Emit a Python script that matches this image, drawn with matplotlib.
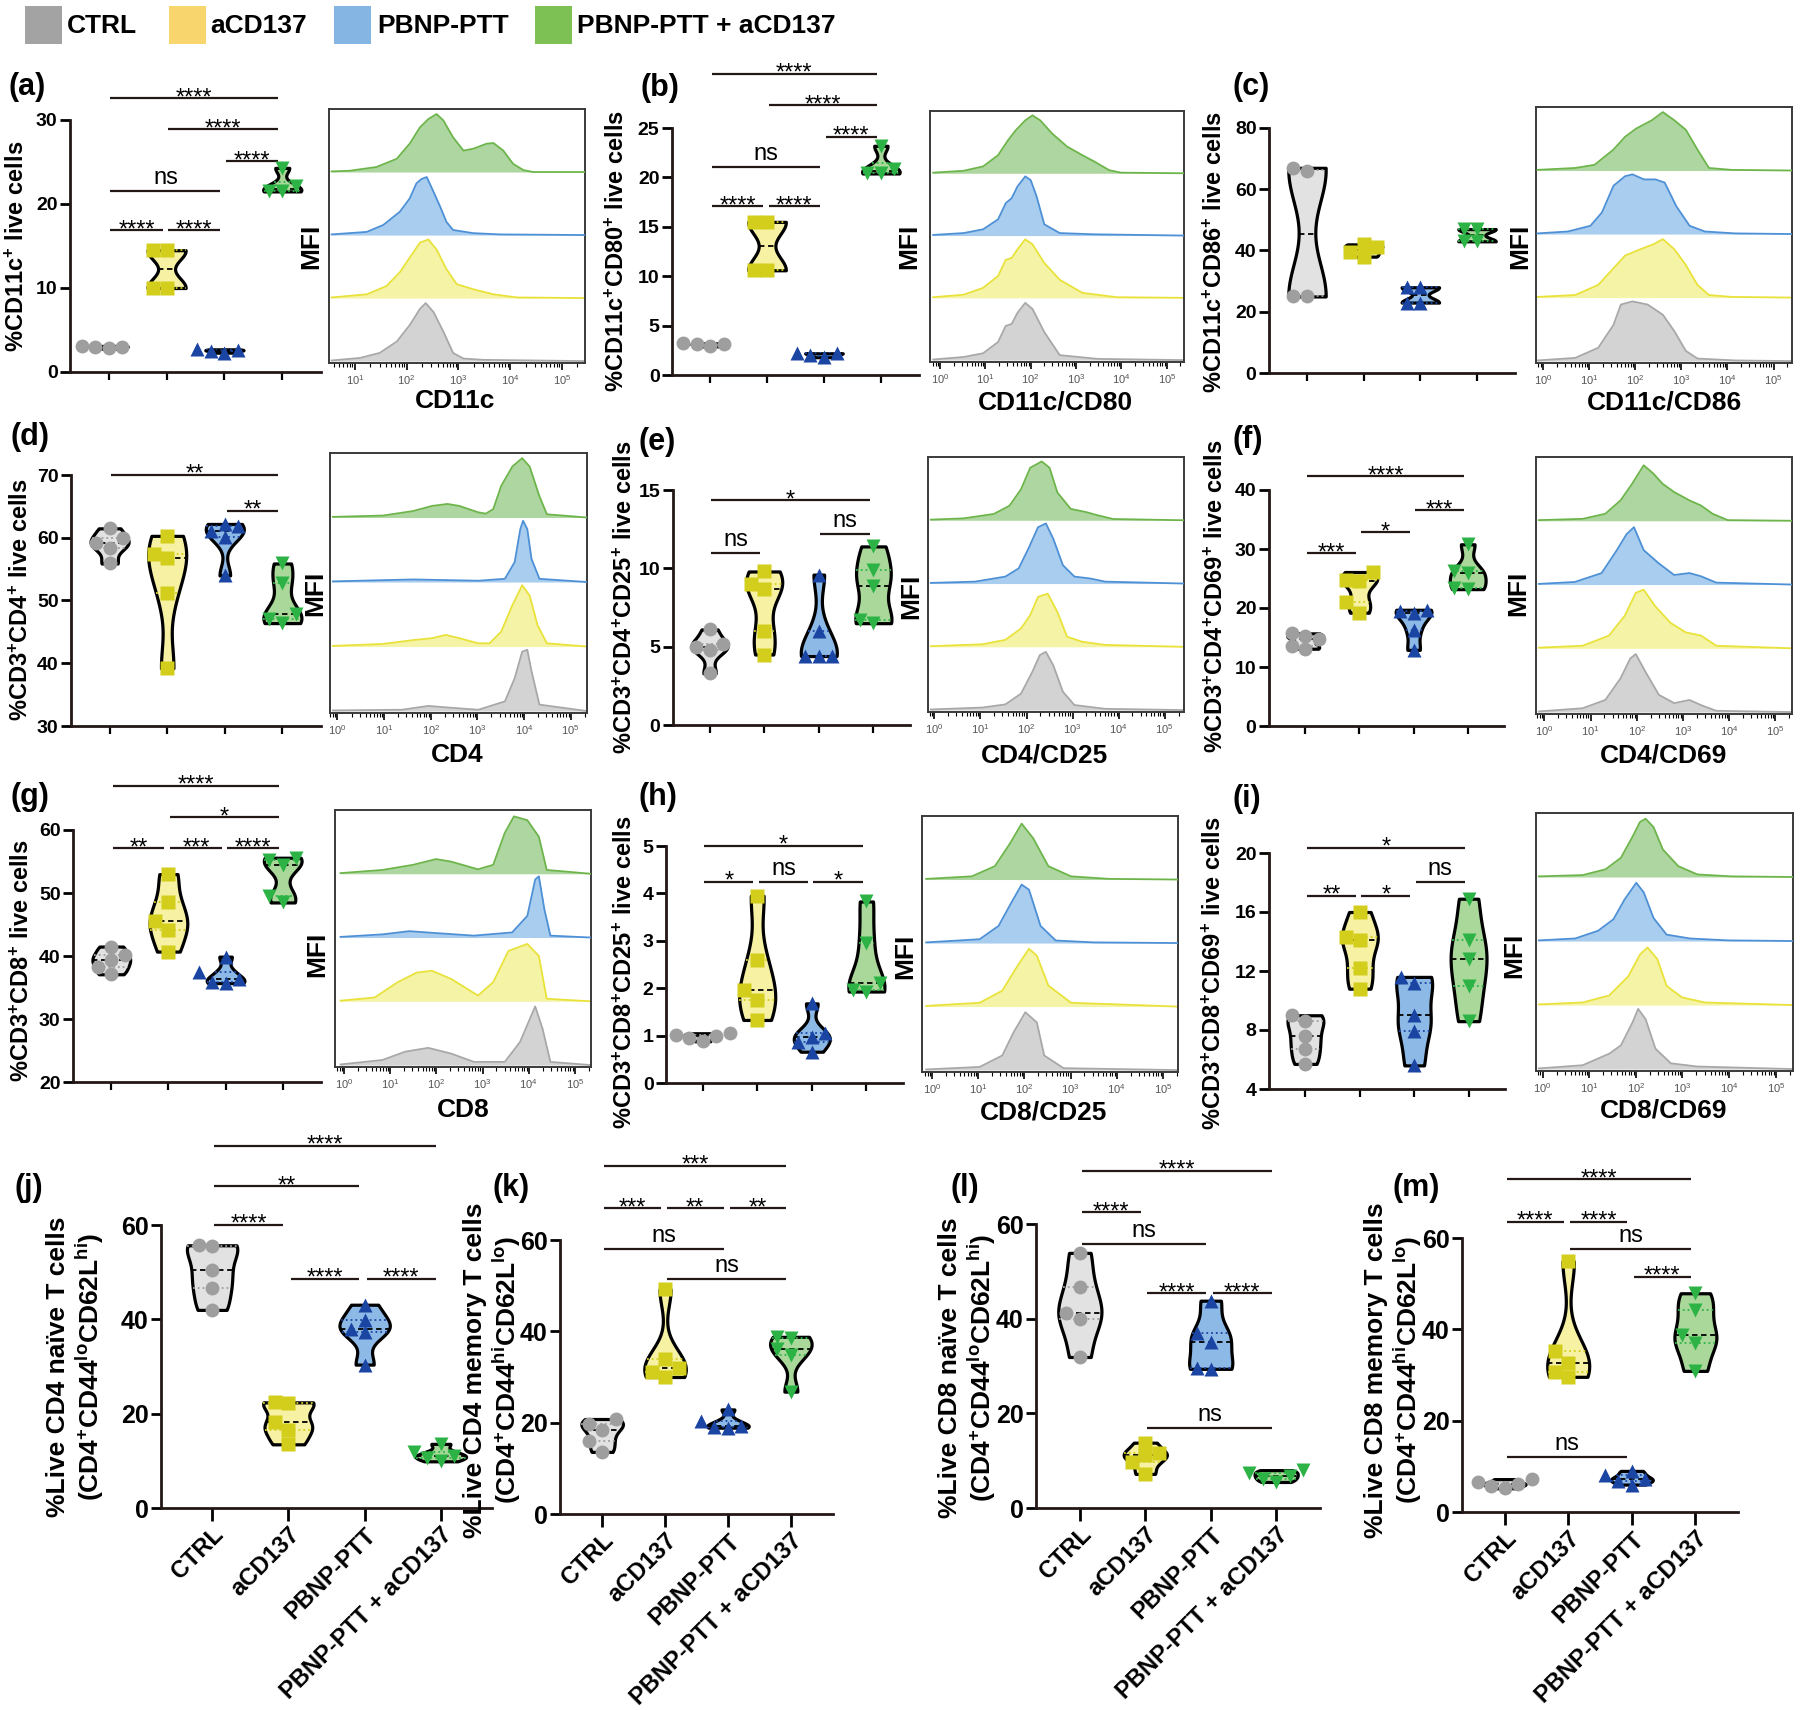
import numpy as np
import matplotlib
matplotlib.use("Agg")
import matplotlib.pyplot as plt
from matplotlib import font_manager
from matplotlib.patches import Rectangle

names = {f.name for f in font_manager.fontManager.ttflist}
FONT = "Liberation Sans" if "Liberation Sans" in names else "DejaVu Sans"
plt.rcParams["font.family"] = [FONT, "DejaVu Sans"]
plt.rcParams["mathtext.default"] = "regular"

W, H = 1800, 1710
GROUPS = ["CTRL", "aCD137", "PBNP-PTT", "PBNP-PTT + aCD137"]

# ---- violin data (percent values per group: CTRL, aCD137, PBNP-PTT, combo) ----
pct_cd11c = [[2.8, 3.0, 3.0, 3.1], [10.0, 10.0, 14.5, 14.5], [2.3, 2.5, 2.6, 2.7], [21.5, 21.5, 22.1, 24.3]]
pct_cd80 = [[2.9, 3.1, 3.1, 3.2], [10.6, 10.6, 15.5, 15.5], [1.8, 2.0, 2.2, 2.2], [20.4, 20.4, 20.9, 23.2]]
pct_cd86 = [[25, 25, 66, 67], [38, 39.5, 41, 42], [23, 23, 28, 28], [43, 43, 47, 47]]
pct_cd4 = [[55.9, 58.3, 59.2, 60.0, 61.5], [39.2, 51.2, 56.8, 57.4, 60.3],
           [54.0, 60.1, 61.1, 61.8, 62.2], [46.4, 47.1, 47.9, 52.8, 55.9]]
pct_cd4_cd25 = [[3.3, 4.8, 5.0, 5.2, 6.1], [4.5, 6.0, 8.7, 9.0, 9.8],
                [4.4, 4.4, 4.4, 6.0, 9.6], [6.5, 6.7, 8.9, 9.9, 11.4]]
pct_cd4_cd69 = [[13.1, 13.5, 14.8, 15.2, 15.7], [19.2, 21.1, 24.5, 24.8, 26.1],
                [12.9, 16.3, 19.1, 19.5, 19.7], [23.2, 23.4, 25.9, 26.2, 30.8]]
pct_cd8 = [[37.1, 38.3, 39.3, 40.2, 41.5], [40.7, 44.1, 45.6, 48.5, 53.0],
           [35.7, 35.8, 36.3, 37.5, 39.9], [48.5, 49.5, 54.4, 55.2, 55.6]]
pct_cd8_cd25 = [[0.88, 0.95, 1.0, 1.02, 1.05], [1.33, 1.75, 1.96, 2.6, 3.95],
                [0.66, 0.87, 0.98, 1.05, 1.68], [1.93, 1.96, 2.1, 2.96, 3.83]]
pct_cd8_cd69 = [[5.7, 6.7, 7.6, 8.6, 9.0], [10.8, 12.2, 14.1, 14.3, 16.0],
                [5.6, 7.9, 9.0, 11.2, 11.6], [8.6, 11.0, 12.8, 14.1, 16.9]]
cd4_naive = [[42.0, 46.6, 50.4, 55.5, 55.7], [13.5, 16.5, 18.2, 22.2, 22.4],
             [30.4, 37.3, 38.0, 39.9, 43.1], [9.9, 10.7, 11.0, 11.8, 13.6]]
cd4_memory = [[13.6, 16.0, 18.5, 19.8, 20.8], [30.0, 31.0, 31.9, 34.0, 49.2],
              [18.9, 19.0, 19.3, 20.4, 22.9], [26.8, 34.9, 36.1, 38.5, 38.8]]
cd8_naive = [[31.9, 39.9, 41.1, 46.7, 53.9], [7.2, 9.7, 11.2, 11.7, 13.8],
             [29.4, 29.6, 35.0, 37.0, 43.8], [5.5, 6.2, 6.8, 7.4, 8.0]]
cd8_memory = [[5.2, 5.8, 6.1, 6.5, 7.2], [29.6, 30.6, 32.7, 35.3, 54.9],
              [6.0, 6.8, 7.2, 8.0, 9.0], [30.9, 37.0, 38.7, 44.2, 47.9]]

# ---- significance brackets: (group i, group j, label, height) ----
st_cd11c = [(0, 3, "****", 32.6), (1, 3, "****", 28.9), (2, 3, "****", 25.1), (0, 2, "ns", 21.6),
            (0, 1, "****", 16.9), (1, 2, "****", 16.9)]
st_cd80 = [(0, 3, "****", 30.5), (1, 3, "****", 27.3), (2, 3, "****", 24.1), (0, 2, "ns", 21.1),
           (0, 1, "****", 17.1), (1, 2, "****", 17.1)]
st_cd86 = []
st_cd4 = [(0, 3, "**", 70.0), (2, 3, "**", 64.3)]
st_cd4_cd25 = [(0, 3, "*", 14.35), (0, 1, "ns", 10.95), (2, 3, "ns", 12.2)]
st_cd4_cd69 = [(0, 3, "****", 42.3), (0, 1, "***", 29.3), (1, 2, "*", 32.8), (2, 3, "***", 36.6)]
st_cd8 = [(0, 3, "****", 67.0), (1, 3, "*", 62.0), (0, 1, "**", 57.1), (1, 2, "***", 57.1),
          (2, 3, "****", 57.1)]
st_cd8_cd25 = [(0, 3, "*", 5.0), (0, 1, "*", 4.24), (1, 2, "ns", 4.24), (2, 3, "*", 4.24)]
st_cd8_cd69 = [(0, 3, "*", 20.35), (0, 1, "**", 17.1), (1, 2, "*", 17.1), (2, 3, "ns", 18.05)]
st_cd4_naive = [(0, 3, "****", 76.8), (0, 2, "**", 68.2), (0, 1, "****", 60.0), (1, 2, "****", 48.6),
                (2, 3, "****", 48.6)]
st_cd4_memory = [(0, 3, "***", 76.2), (0, 1, "***", 67.0), (1, 2, "**", 67.0), (2, 3, "**", 67.0),
                 (0, 2, "ns", 58.0), (1, 3, "ns", 51.5)]
st_cd8_naive = [(0, 3, "****", 71.3), (0, 1, "****", 62.5), (0, 2, "ns", 55.7), (1, 2, "****", 45.4),
                (2, 3, "****", 45.4), (1, 3, "ns", 16.9)]
st_cd8_memory = [(0, 3, "****", 72.9), (0, 1, "****", 63.6), (1, 2, "****", 63.6), (1, 3, "ns", 57.7),
                 (2, 3, "****", 51.5), (0, 2, "ns", 12.1)]

# ---- flow histograms: log10 intensity and relative height, rows CTRL, aCD137, PBNP-PTT, combo ----
hx_cd11c = [[0.55, 1.10, 1.48, 1.81, 2.06, 2.26, 2.37, 2.52, 2.71, 2.90, 3.10, 3.48, 5.45],
            [0.55, 1.23, 1.61, 1.87, 2.06, 2.26, 2.42, 2.58, 2.77, 2.97, 3.29, 3.68, 4.13, 5.45],
            [0.55, 1.23, 1.55, 1.87, 2.06, 2.19, 2.29, 2.39, 2.48, 2.65, 2.77, 2.90, 3.29, 3.81, 5.45],
            [0.55, 0.90, 1.42, 1.81, 2.06, 2.26, 2.42, 2.58, 2.71, 2.90, 3.10, 3.29, 3.55, 3.68, 3.87,
             4.06, 4.26, 4.45, 5.45]]
hy_cd11c = [[0.01, 0.05, 0.13, 0.31, 0.57, 0.83, 0.92, 0.78, 0.47, 0.13, 0.04, 0.02, 0],
            [0.01, 0.06, 0.19, 0.41, 0.64, 0.88, 0.93, 0.77, 0.46, 0.22, 0.14, 0.06, 0.01, 0],
            [0.01, 0.05, 0.16, 0.37, 0.58, 0.82, 0.89, 0.92, 0.76, 0.45, 0.21, 0.08, 0.03, 0.01, 0],
            [0.01, 0.02, 0.08, 0.21, 0.45, 0.71, 0.84, 0.92, 0.82, 0.55, 0.34, 0.37, 0.45, 0.46, 0.34,
             0.13, 0.03, 0, 0]]
hx_cd80 = [[-0.15, 0.52, 0.95, 1.28, 1.45, 1.58, 1.71, 1.88, 2.04, 2.30, 2.64, 3.48, 5.38],
           [-0.15, 0.52, 0.95, 1.28, 1.45, 1.58, 1.71, 1.88, 2.04, 2.30, 2.64, 3.14, 3.90, 5.38],
           [-0.15, 0.52, 0.95, 1.28, 1.45, 1.58, 1.71, 1.88, 2.00, 2.13, 2.30, 2.64, 3.40, 5.38],
           [-0.15, 0.52, 0.95, 1.28, 1.50, 1.67, 1.88, 2.04, 2.21, 2.47, 2.80, 3.14, 3.40, 3.73, 3.99, 5.38]]
hy_cd80 = [[0.01, 0.05, 0.11, 0.29, 0.55, 0.58, 0.76, 0.92, 0.82, 0.45, 0.08, 0.02, 0],
           [0.01, 0.05, 0.16, 0.35, 0.61, 0.64, 0.78, 0.94, 0.86, 0.56, 0.29, 0.08, 0.01, 0],
           [0.01, 0.04, 0.10, 0.26, 0.52, 0.60, 0.79, 0.95, 0.89, 0.63, 0.18, 0.04, 0.02, 0],
           [0.01, 0.04, 0.11, 0.29, 0.53, 0.69, 0.85, 0.93, 0.85, 0.64, 0.43, 0.29, 0.19, 0.05, 0.01, 0]]
hx_cd86 = [[-0.12, 0.70, 1.20, 1.53, 1.69, 1.94, 2.27, 2.60, 2.85, 3.10, 3.35, 4.17, 5.40],
           [-0.12, 0.70, 1.20, 1.53, 1.78, 2.11, 2.40, 2.60, 2.85, 3.10, 3.35, 3.60, 4.09, 5.40],
           [-0.12, 0.54, 1.03, 1.28, 1.53, 1.78, 1.94, 2.19, 2.44, 2.64, 2.89, 3.18, 3.51, 4.17, 5.40],
           [-0.12, 0.70, 1.12, 1.53, 1.78, 2.02, 2.36, 2.60, 2.85, 3.10, 3.35, 3.60, 4.09, 5.40]]
hy_cd86 = [[0.01, 0.05, 0.21, 0.57, 0.89, 0.94, 0.89, 0.73, 0.47, 0.16, 0.04, 0.01, 0],
           [0.01, 0.04, 0.20, 0.46, 0.66, 0.76, 0.84, 0.92, 0.76, 0.51, 0.20, 0.04, 0.01, 0],
           [0.01, 0.04, 0.13, 0.34, 0.76, 0.91, 0.94, 0.86, 0.86, 0.81, 0.44, 0.13, 0.04, 0.01, 0],
           [0.01, 0.04, 0.09, 0.33, 0.53, 0.66, 0.79, 0.92, 0.79, 0.64, 0.33, 0.04, 0.01, 0]]
hx_cd4 = [[-0.1, 1.38, 1.95, 2.28, 3.02, 3.59, 3.80, 3.96, 4.07, 4.16, 4.33, 5.35],
          [-0.1, 0.97, 1.62, 2.03, 2.32, 2.61, 3.02, 3.26, 3.51, 3.75, 3.96, 4.12, 4.29, 4.49, 5.35],
          [-0.1, 1.62, 3.02, 3.59, 3.80, 3.92, 3.98, 4.07, 4.16, 4.33, 5.35],
          [-0.1, 0.97, 1.62, 2.03, 2.36, 2.61, 3.02, 3.18, 3.34, 3.51, 3.75, 3.96, 4.12, 4.33, 4.49, 5.35]]
hy_cd4 = [[0.01, 0.02, 0.08, 0.06, 0.02, 0.15, 0.51, 0.92, 0.95, 0.62, 0.10, 0],
          [0.01, 0.04, 0.10, 0.13, 0.18, 0.13, 0.05, 0.05, 0.23, 0.64, 0.95, 0.79, 0.33, 0.05, 0],
          [0.01, 0.04, 0.02, 0.05, 0.31, 0.82, 0.95, 0.82, 0.36, 0.05, 0],
          [0.01, 0.03, 0.10, 0.18, 0.21, 0.18, 0.08, 0.06, 0.13, 0.49, 0.79, 0.92, 0.79, 0.33, 0.05, 0]]
hx_cd25 = [[-0.08, 1.04, 1.54, 1.88, 2.13, 2.29, 2.42, 2.58, 2.79, 3.04, 3.71, 5.42],
           [-0.08, 1.04, 1.54, 1.88, 2.08, 2.25, 2.46, 2.67, 2.88, 3.21, 3.71, 5.42],
           [-0.08, 0.88, 1.54, 1.83, 2.04, 2.25, 2.42, 2.58, 2.79, 3.04, 3.38, 3.71, 5.42],
           [-0.08, 0.63, 1.29, 1.63, 1.88, 2.08, 2.33, 2.50, 2.67, 2.96, 3.29, 3.54, 3.88, 5.42]]
hy_cd25 = [[0.01, 0.04, 0.09, 0.26, 0.61, 0.87, 0.92, 0.71, 0.29, 0.08, 0.02, 0],
           [0.01, 0.04, 0.11, 0.29, 0.50, 0.79, 0.84, 0.55, 0.16, 0.08, 0.03, 0],
           [0.01, 0.03, 0.11, 0.24, 0.55, 0.89, 0.95, 0.71, 0.29, 0.11, 0.08, 0.03, 0],
           [0.01, 0.03, 0.10, 0.23, 0.49, 0.83, 0.93, 0.83, 0.44, 0.18, 0.13, 0.08, 0.02, 0]]
hx_cd69 = [[-0.12, 0.83, 1.32, 1.65, 1.86, 1.98, 2.19, 2.48, 2.81, 3.14, 3.39, 3.72, 5.36],
           [-0.12, 0.83, 1.40, 1.74, 1.98, 2.15, 2.40, 2.73, 3.06, 3.39, 3.72, 5.36],
           [-0.12, 0.66, 1.24, 1.57, 1.78, 1.94, 2.15, 2.48, 2.81, 3.14, 3.39, 3.72, 5.36],
           [-0.12, 0.83, 1.32, 1.65, 1.90, 2.15, 2.36, 2.56, 2.81, 3.14, 3.39, 3.64, 3.97, 5.36]]
hy_cd69 = [[0.01, 0.06, 0.19, 0.53, 0.84, 0.91, 0.63, 0.27, 0.14, 0.19, 0.11, 0.02, 0],
           [0.01, 0.04, 0.20, 0.51, 0.87, 0.92, 0.66, 0.40, 0.25, 0.20, 0.04, 0],
           [0.01, 0.04, 0.18, 0.54, 0.79, 0.90, 0.54, 0.33, 0.15, 0.18, 0.13, 0.03, 0],
           [0.01, 0.03, 0.11, 0.32, 0.58, 0.87, 0.74, 0.58, 0.45, 0.32, 0.24, 0.11, 0.01, 0]]
hx_cd8 = [[-0.08, 0.83, 1.32, 1.82, 2.32, 2.81, 3.48, 3.81, 4.14, 4.30, 4.47, 5.35],
          [-0.08, 0.66, 1.16, 1.57, 1.90, 2.32, 2.90, 3.23, 3.56, 3.97, 4.22, 4.39, 5.35],
          [-0.08, 0.83, 1.41, 1.99, 2.81, 3.64, 3.97, 4.14, 4.22, 4.34, 4.47, 5.35],
          [-0.08, 0.83, 1.49, 1.99, 2.32, 2.90, 3.23, 3.48, 3.68, 3.97, 4.22, 4.39, 5.35]]
hy_cd8 = [[0.01, 0.08, 0.21, 0.27, 0.18, 0.05, 0.05, 0.36, 0.92, 0.57, 0.05, 0],
          [0.01, 0.06, 0.30, 0.45, 0.48, 0.35, 0.09, 0.30, 0.79, 0.90, 0.71, 0.04, 0],
          [0.01, 0.05, 0.10, 0.07, 0.03, 0.08, 0.34, 0.91, 0.96, 0.44, 0.03, 0],
          [0.01, 0.06, 0.14, 0.23, 0.19, 0.07, 0.14, 0.64, 0.90, 0.84, 0.58, 0.06, 0]]
hx_cd8_cd25 = [[-0.13, 1.03, 1.52, 1.77, 2.02, 2.27, 2.43, 2.85, 5.33],
               [-0.13, 1.03, 1.52, 1.85, 2.10, 2.27, 2.52, 3.01, 5.33],
               [-0.13, 1.03, 1.44, 1.72, 1.94, 2.10, 2.35, 2.68, 3.51, 5.33],
               [-0.13, 0.86, 1.36, 1.69, 1.94, 2.19, 2.52, 3.01, 3.84, 5.33]]
hy_cd8_cd25 = [[0.01, 0.05, 0.23, 0.60, 0.91, 0.75, 0.23, 0.03, 0],
               [0.01, 0.06, 0.25, 0.64, 0.91, 0.80, 0.33, 0.06, 0],
               [0.01, 0.06, 0.27, 0.64, 0.92, 0.84, 0.27, 0.04, 0.01, 0],
               [0.01, 0.05, 0.21, 0.57, 0.88, 0.65, 0.21, 0.05, 0.01, 0]]
hx_cd8_cd69 = [[-0.08, 0.86, 1.43, 1.68, 1.93, 2.05, 2.21, 2.42, 2.75, 3.32, 5.37],
               [-0.08, 0.86, 1.43, 1.84, 2.09, 2.25, 2.46, 2.66, 2.99, 3.48, 5.37],
               [-0.08, 0.70, 1.19, 1.52, 1.76, 2.01, 2.17, 2.38, 2.66, 3.16, 3.98, 5.37],
               [-0.08, 0.86, 1.35, 1.68, 1.93, 2.09, 2.21, 2.38, 2.58, 2.91, 3.32, 4.06, 5.37]]
hy_cd8_cd69 = [[0.01, 0.06, 0.24, 0.37, 0.73, 0.94, 0.78, 0.32, 0.09, 0.04, 0],
               [0.01, 0.04, 0.15, 0.45, 0.79, 0.90, 0.72, 0.30, 0.12, 0.04, 0],
               [0.01, 0.04, 0.16, 0.34, 0.65, 0.91, 0.76, 0.36, 0.10, 0.04, 0.01, 0],
               [0.01, 0.03, 0.12, 0.30, 0.63, 0.86, 0.91, 0.78, 0.43, 0.17, 0.04, 0.01, 0]]

# colours
LEG_C = ["#A3A3A3", "#F8D66D", "#84B5E3", "#7DC053"]
FILL = ["#E2E2E2", "#F6F1A3", "#8DB9E7", "#A9D89A"]
DARK = ["#9E9E9E", "#D3CE1C", "#1B45A3", "#2DB345"]
MARK = ["o", "s", "^", "v"]
HFILL = ["#D3D3D3", "#F5F3A6", "#A9CDEE", "#AED6A0"]
HLINE = ["#A8A8A8", "#E8E23A", "#4D90D6", "#6DB54B"]

fig = plt.figure(figsize=(W / 100, H / 100), dpi=100)


def px_box(x0, y0, x1, y1):
    return [x0 / W, 1 - y1 / H, (x1 - x0) / W, (y1 - y0) / H]


def ftext(x, y, s, **kw):
    fig.text(x / W, 1 - y / H, s, **kw)


def swarm_offsets(ax, k, vals, size=13.5):
    to_px = ax.transData.transform
    unit = to_px((1, 0))[0] - to_px((0, 0))[0]
    placed, offs = [], {}
    for idx in np.argsort(vals):
        py = to_px((k, vals[idx]))[1]
        for c in (0, -1, 1, -2, 2, -3, 3):
            px = c * size
            if all((px - qx) ** 2 + (py - qy) ** 2 >= (0.9 * size) ** 2 for qx, qy in placed):
                break
        placed.append((px, py))
        offs[idx] = px / unit
    return [offs[i] for i in range(len(vals))]


def violin_panel(data, stats, box, ylim, yticks, bottom=False):
    ax = fig.add_axes(px_box(*box))
    ax.set_xlim(-0.67, 3.67)
    ax.set_ylim(*ylim)
    for s in ("top", "right"):
        ax.spines[s].set_visible(False)
    for s in ("left", "bottom"):
        ax.spines[s].set_linewidth(2.0)
        ax.spines[s].set_color("#231815")
    tsize = 18 if bottom else 14
    ax.set_yticks(yticks, [f"{v:g}" for v in yticks], fontsize=tsize, fontweight="bold")
    if bottom:
        ax.set_xticks(range(4), GROUPS, rotation=45, ha="right", rotation_mode="anchor",
                      fontsize=17, fontweight="bold")
        ax.tick_params(axis="x", length=9, width=2.0, pad=2)
    else:
        ax.set_xticks(range(4), [])
        ax.tick_params(axis="x", length=6, width=1.6)
    ax.tick_params(axis="y", length=7, width=2.0, pad=2)

    parts = ax.violinplot(data, positions=range(4), widths=0.66, showextrema=False,
                          bw_method=0.5, points=200)
    for k, body in enumerate(parts["bodies"]):
        body.set_facecolor(FILL[k])
        body.set_edgecolor("black")
        body.set_linewidth(2.3)
        body.set_alpha(1)
        body.set_zorder(2)
        v = body.get_paths()[0].vertices
        right = v[v[:, 0] >= k]
        order = np.argsort(right[:, 1])
        ys, xs = right[order, 1], right[order, 0] - k
        q1, med, q3 = np.percentile(data[k], [25, 50, 75])
        for q, ls, col in ((q1, ":", DARK[k]), (q3, ":", DARK[k]), (med, (0, (3, 2)), "black")):
            hw = np.interp(q, ys, xs)
            ax.plot([k - hw, k + hw], [q, q], ls=ls, color=col, lw=1.3, zorder=3)
    for k in range(4):
        offs = swarm_offsets(ax, k, data[k])
        ax.plot(np.array(offs) + k, data[k], ls="none", marker=MARK[k], ms=10, mfc=DARK[k],
                mec="none", zorder=4, clip_on=False)
    for i, j, lab, y in stats:
        x1, x2 = i + 0.03, j - 0.07
        ax.plot([x1, x2], [y, y], color="#231815", lw=1.6, clip_on=False, solid_capstyle="butt")
        if lab == "ns":
            ax.annotate(lab, ((x1 + x2) / 2, y), xytext=(0, 7), textcoords="offset pixels",
                        ha="center", va="baseline", fontsize=17, annotation_clip=False)
        else:
            ax.annotate(lab, ((x1 + x2) / 2, y), xytext=(0, -6), textcoords="offset pixels",
                        ha="center", va="baseline", fontsize=17, annotation_clip=False)
    return ax


def hist_panel(xs, hs, box, xlim):
    ax = fig.add_axes(px_box(*box))
    ax.set_xscale("log")
    ax.set_xlim(10 ** xlim[0], 10 ** xlim[1])
    ax.set_ylim(-0.03, 4)
    for k in range(4):
        x = np.power(10.0, xs[k])
        top = k + np.asarray(hs[k])
        ax.fill_between(x, k, top, color=HFILL[k], lw=0, zorder=1 + k)
        ax.plot(x, top, color=HLINE[k], lw=1.3, zorder=1 + k)
    ax.set_yticks([])
    ax.tick_params(axis="x", which="major", length=5, width=1.2, labelsize=8,
                   labelcolor="#555555", pad=2)
    ax.tick_params(axis="x", which="minor", length=3, width=0.8)
    for s in ax.spines.values():
        s.set_linewidth(1.4)
        s.set_color("#3a3a3a")
    return ax


# ---- legend ----
for (sx, tx), col, lab in zip([(25, 67), (169, 210), (334, 377), (535, 577)], LEG_C, GROUPS):
    fig.add_artist(Rectangle((sx / W, 1 - 44 / H), 37 / W, 38 / H, transform=fig.transFigure,
                             facecolor=col, edgecolor="none"))
    ftext(tx, 26, lab, fontsize=19, fontweight="bold", ha="left", va="center")

# ---- violin panels ----
violins = [
    ("(a)", pct_cd11c, st_cd11c, (70, 120, 321, 372), (0, 30), [0, 10, 20, 30],
     "%CD11c$^{+}$ live cells", (17, 246), (9, 87)),
    ("(b)", pct_cd80, st_cd80, (672, 128, 919, 375), (0, 25), [0, 5, 10, 15, 20, 25],
     "%CD11c$^{+}$CD80$^{+}$ live cells", (617, 251), (640, 88)),
    ("(c)", pct_cd86, st_cd86, (1269, 128, 1515, 373), (0, 80), [0, 20, 40, 60, 80],
     "%CD11c$^{+}$CD86$^{+}$ live cells", (1215, 252), (1233, 87)),
    ("(d)", pct_cd4, st_cd4, (71, 475, 321, 726), (30, 70), [30, 40, 50, 60, 70],
     "%CD3$^{+}$CD4$^{+}$ live cells", (21, 600), (11, 437)),
    ("(e)", pct_cd4_cd25, st_cd4_cd25, (673, 490, 910, 725), (0, 15), [0, 5, 10, 15],
     "%CD3$^{+}$CD4$^{+}$CD25$^{+}$ live cells", (625, 597), (638, 442)),
    ("(f)", pct_cd4_cd69, st_cd4_cd69, (1269, 490, 1504, 726), (0, 40), [0, 10, 20, 30, 40],
     "%CD3$^{+}$CD4$^{+}$CD69$^{+}$ live cells", (1216, 596), (1233, 440)),
    ("(g)", pct_cd8, st_cd8, (73, 830, 321, 1082), (20, 60), [20, 30, 40, 50, 60],
     "%CD3$^{+}$CD8$^{+}$ live cells", (22, 961), (11, 797)),
    ("(h)", pct_cd8_cd25, st_cd8_cd25, (666, 846, 903, 1083), (0, 5), [0, 1, 2, 3, 4, 5],
     "%CD3$^{+}$CD8$^{+}$CD25$^{+}$ live cells", (625, 972), (639, 797)),
    ("(i)", pct_cd8_cd69, st_cd8_cd69, (1269, 853, 1505, 1089), (4, 20), [4, 8, 12, 16, 20],
     "%CD3$^{+}$CD8$^{+}$CD69$^{+}$ live cells", (1214, 973), (1233, 799)),
]
for letter, data, stats, box, ylim, yt, ylab, ylab_xy, let_xy in violins:
    violin_panel(data, stats, box, ylim, yt)
    ftext(*ylab_xy, ylab, rotation=90, fontsize=17, fontweight="bold", ha="center", va="center")
    ftext(*let_xy, letter, fontsize=22, fontweight="bold", ha="left", va="center")

bottoms = [
    ("(j)", cd4_naive, st_cd4_naive, (161, 1225, 492, 1508),
     "%Live CD4 naïve T cells\n(CD4$^{+}$CD44$^{lo}$CD62L$^{hi}$)", (76, 1367), (14, 1188)),
    ("(k)", cd4_memory, st_cd4_memory, (560, 1240, 833, 1514),
     "%Live CD4 memory T cells\n(CD4$^{+}$CD44$^{hi}$CD62L$^{lo}$)", (493, 1370), (493, 1188)),
    ("(l)", cd8_naive, st_cd8_naive, (1036, 1224, 1320, 1508),
     "%Live CD8 naïve T cells\n(CD4$^{+}$CD44$^{lo}$CD62L$^{hi}$)", (968, 1368), (950, 1188)),
    ("(m)", cd8_memory, st_cd8_memory, (1462, 1238, 1738, 1512),
     "%Live CD8 memory T cells\n(CD4$^{+}$CD44$^{hi}$CD62L$^{lo}$)", (1394, 1370), (1393, 1188)),
]
for letter, data, stats, box, ylab, ylab_xy, let_xy in bottoms:
    violin_panel(data, stats, box, (0, 60), [0, 20, 40, 60], bottom=True)
    ftext(*ylab_xy, ylab, rotation=90, fontsize=19, fontweight="bold", ha="center", va="center",
          multialignment="center", linespacing=1.15)
    ftext(*let_xy, letter, fontsize=22, fontweight="bold", ha="left", va="center")

# ---- histogram panels ----
hists = [
    (hx_cd11c, hy_cd11c, (329, 109, 585, 363), (0.5, 5.45), "CD11c", (455, 401), (311, 246)),
    (hx_cd80, hy_cd80, (930, 111, 1184, 362), (-0.22, 5.38), "CD11c/CD80", (1055, 403), (909, 246)),
    (hx_cd86, hy_cd86, (1536, 107, 1792, 363), (-0.15, 5.40), "CD11c/CD86", (1664, 403), (1520, 246)),
    (hx_cd4, hy_cd4, (330, 453, 587, 713), (-0.16, 5.35), "CD4", (457, 755), (315, 593)),
    (hx_cd25, hy_cd25, (928, 457, 1184, 712), (-0.14, 5.42), "CD4/CD25", (1044, 755), (911, 596)),
    (hx_cd69, hy_cd69, (1536, 457, 1792, 714), (-0.18, 5.36), "CD4/CD69", (1664, 755), (1518, 593)),
    (hx_cd8, hy_cd8, (335, 810, 591, 1067), (-0.2, 5.35), "CD8", (463, 1110), (317, 954)),
    (hx_cd8_cd25, hy_cd8_cd25, (922, 816, 1178, 1072), (-0.22, 5.33), "CD8/CD25", (1044, 1112), (905, 956)),
    (hx_cd8_cd69, hy_cd8_cd69, (1536, 813, 1793, 1071), (-0.14, 5.37), "CD8/CD69", (1664, 1111), (1514, 955)),
]
for xs, hs, box, xlim, lab, lab_xy, mfi_xy in hists:
    hist_panel(xs, hs, box, xlim)
    ftext(*lab_xy, lab, fontsize=19, fontweight="bold", ha="center", va="center")
    ftext(*mfi_xy, "MFI", rotation=90, fontsize=19, fontweight="bold", ha="center", va="center")

fig.savefig("out.png", dpi=100, facecolor="white")
